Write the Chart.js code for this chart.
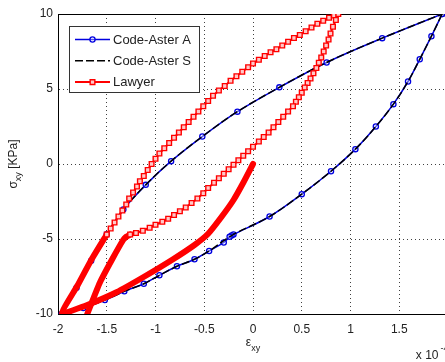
<!DOCTYPE html>
<html><head><meta charset="utf-8">
<script src="https://cdn.jsdelivr.net/npm/chart.js@4/dist/chart.umd.min.js"></script>
<style>html,body{margin:0;padding:0;background:#fff;overflow:hidden;width:445px;height:362px}canvas{display:block}</style>
</head><body><canvas id="c" width="460" height="362" style="width:460px;height:362px"></canvas>
<script>
// ---- data (strain in 1e-4, stress in KPa) ----
const xTickValues = [-2, -1.5, -1, -0.5, 0, 0.5, 1, 1.5, 2];
const yTickValues = [-10, -5, 0, 5, 10];
const seriesNames = ['Code-Aster A', 'Code-Aster S', 'Lawyer'];

const asterAUp = [[-1.96,-10],[-1.81,-8.25],[-1.66,-6.45],[-1.5,-4.69],[-1.33,-3.03],[-1.10,-1.39],[-0.84,0.19],[-0.52,1.83],[-0.16,3.49],[0.27,5.11],[0.755,6.77],[1.325,8.39],[1.94,10]];
const asterADown = [[1.94,10],[1.83,8.52],[1.71,6.98],[1.59,5.5],[1.44,3.99],[1.26,2.5],[1.05,0.99],[0.80,-0.48],[0.50,-2.01],[0.17,-3.5],[-0.20,-4.70],[-0.22,-4.77],[-0.24,-4.85],[-0.30,-5.23],[-0.45,-5.8],[-0.60,-6.35],[-0.78,-6.82],[-0.96,-7.42],[-1.12,-7.98],[-1.32,-8.49],[-1.52,-9.07],[-1.74,-9.6],[-1.96,-10]];
const asterSUp = [[-1.96,-10],[-1.81,-8.25],[-1.66,-6.45],[-1.5,-4.69],[-1.33,-3.03],[-1.10,-1.39],[-0.84,0.19],[-0.52,1.83],[-0.16,3.49],[0.27,5.11],[0.755,6.77],[1.325,8.39],[1.94,10]];
const asterSDown = [[1.94,10],[1.83,8.52],[1.71,6.98],[1.59,5.5],[1.44,3.99],[1.26,2.5],[1.05,0.99],[0.80,-0.48],[0.50,-2.01],[0.17,-3.5],[-0.22,-4.77],[-0.45,-5.8],[-0.60,-6.35],[-0.78,-6.82],[-0.96,-7.42],[-1.12,-7.98],[-1.32,-8.49],[-1.52,-9.07],[-1.74,-9.6],[-1.96,-10]];

const lawyerInitial = [[0,0],[-0.1,-1.25],[-0.2,-2.4],[-0.32,-3.5],[-0.46,-4.65],[-0.6,-5.4],[-0.82,-6.35],[-1.1,-7.45],[-1.4,-8.55],[-1.7,-9.4],[-1.96,-10]];
const lawyerReloadDense = [[-1.96,-10],[-1.8,-8.1],[-1.65,-6.3],[-1.5,-4.7]];
const lawyerReload = [[-1.50,-4.70],[-1.46,-4.30],[-1.42,-3.90],[-1.38,-3.50],[-1.34,-3.10],[-1.30,-2.70],[-1.27,-2.30],[-1.23,-1.90],[-1.19,-1.50],[-1.16,-1.15],[-1.12,-0.80],[-1.08,-0.40],[-1.04,0.00],[-1.00,0.35],[-0.96,0.70],[-0.91,1.05],[-0.86,1.40],[-0.81,1.75],[-0.76,2.10],[-0.71,2.45],[-0.66,2.80],[-0.61,3.15],[-0.56,3.50],[-0.51,3.85],[-0.46,4.20],[-0.41,4.55],[-0.35,4.90],[-0.29,5.20],[-0.23,5.55],[-0.17,5.85],[-0.11,6.15],[-0.05,6.45],[0.00,6.70],[0.06,6.95],[0.12,7.20],[0.18,7.45],[0.24,7.65],[0.30,7.90],[0.36,8.15],[0.42,8.40],[0.48,8.60],[0.54,8.85],[0.60,9.10],[0.66,9.35],[0.72,9.55],[0.78,9.75],[0.83,9.90],[0.875,10.0]];
const lawyerUnload = [[0.875,10.0],[0.85,9.60],[0.82,9.15],[0.795,8.70],[0.775,8.30],[0.75,7.90],[0.725,7.50],[0.70,7.10],[0.675,6.75],[0.65,6.40],[0.62,6.05],[0.59,5.70],[0.56,5.40],[0.53,5.10],[0.50,4.75],[0.47,4.45],[0.44,4.15],[0.41,3.85],[0.36,3.50],[0.31,3.15],[0.26,2.80],[0.21,2.45],[0.16,2.10],[0.11,1.80],[0.06,1.50],[0.00,1.15],[-0.05,0.85],[-0.10,0.55],[-0.15,0.25],[-0.20,-0.05],[-0.25,-0.35],[-0.30,-0.65],[-0.35,-0.95],[-0.40,-1.25],[-0.46,-1.60],[-0.51,-1.95],[-0.57,-2.30],[-0.63,-2.60],[-0.69,-2.90],[-0.75,-3.15],[-0.81,-3.40],[-0.87,-3.65],[-0.93,-3.85],[-1.00,-4.05],[-1.06,-4.25],[-1.13,-4.45],[-1.20,-4.60],[-1.26,-4.70]];
const lawyerUnloadDense = [[-1.26,-4.70],[-1.30,-4.85],[-1.33,-5.05],[-1.44,-6.3],[-1.57,-7.9],[-1.70,-10]];

const xTitle = {main: 'ε', sub: 'xy'};
const yTitle = {main: 'σ', sub: 'xy', rest: ' [KPa]'};
const xExponent = {base: 'x 10', exp: '-4'};

// ---- helpers ----
const pts = a => a.map(p => ({x: p[0], y: p[1]}));
const FONT = '"Liberation Sans", Arial, sans-serif';
const TXT = '#222';
const RED = '#ff0000', BLUE = '#0000e0', BLACK = '#000000';

const blueBase = {showLine: true, borderColor: BLUE, borderWidth: 1.5, tension: 0.35,
  pointStyle: 'circle', pointRadius: 2.6, pointBorderWidth: 1.3, pointBorderColor: BLUE,
  pointBackgroundColor: 'rgba(255,255,255,0.35)', order: 3};
const blackBase = {showLine: true, borderColor: BLACK, borderWidth: 1.5, tension: 0.35,
  borderDash: [8, 3], pointRadius: 0, order: 2};
const redBase = {showLine: true, borderColor: RED, borderWidth: 2, tension: 0,
  pointStyle: 'rect', pointRadius: 3.3, pointBorderWidth: 1.4, pointBorderColor: RED,
  pointBackgroundColor: '#ffc8c8', order: 0};
const redThick = {showLine: true, borderColor: RED, borderWidth: 6, tension: 0.2,
  pointRadius: 0, borderCapStyle: 'round', borderJoinStyle: 'round', order: 1};

const datasets = [
  Object.assign({label: seriesNames[0], inLegend: true, data: pts(asterAUp), backgroundColor: BLUE}, blueBase),
  Object.assign({label: seriesNames[0] + ' (down)', data: pts(asterADown)}, blueBase),
  Object.assign({label: seriesNames[1], inLegend: true, data: pts(asterSUp)}, blackBase),
  Object.assign({label: seriesNames[1] + ' (down)', data: pts(asterSDown)}, blackBase),
  Object.assign({label: seriesNames[2], inLegend: true, data: pts(lawyerReload.concat(lawyerUnload.slice(1)))}, redBase),
  Object.assign({label: seriesNames[2] + ' (dense 1)', data: pts(lawyerInitial.concat(lawyerReloadDense.slice(1)))}, redThick),
  Object.assign({label: seriesNames[2] + ' (dense 2)', data: pts(lawyerUnloadDense)}, redThick)
];

const framePlugin = {
  id: 'frame',
  beforeDatasetsDraw(chart) {
    const {ctx, chartArea: a} = chart;
    ctx.save();
    ctx.strokeStyle = '#000'; ctx.lineWidth = 1;
    ctx.strokeRect(Math.round(a.left) + 0.5, Math.round(a.top) + 0.5, Math.round(a.right - a.left), Math.round(a.bottom - a.top));
    ctx.restore();
  }
};

const legendPlugin = {
  id: 'boxLegend',
  afterDatasetsDraw(chart) {
    const {ctx, chartArea: a} = chart;
    const items = chart.data.datasets.filter(d => d.inLegend);
    const x0 = a.left + 11, y0 = a.top + 12, w = 130, h = 66;
    ctx.save();
    ctx.fillStyle = '#fff';
    ctx.fillRect(x0, y0, w, h);
    ctx.strokeStyle = '#333'; ctx.lineWidth = 1;
    ctx.strokeRect(x0 + 0.5, y0 + 0.5, w, h);
    items.forEach((d, i) => {
      const cy = y0 + 13.5 + i * 21.3;
      ctx.save();
      ctx.strokeStyle = d.borderColor; ctx.lineWidth = Math.min(d.borderWidth, 2);
      ctx.setLineDash(d.borderDash || []);
      ctx.beginPath(); ctx.moveTo(x0 + 6, cy); ctx.lineTo(x0 + 41, cy); ctx.stroke();
      ctx.setLineDash([]);
      const mx = x0 + 23.5;
      if (d.pointRadius > 0) {
        ctx.lineWidth = d.pointBorderWidth; ctx.strokeStyle = d.pointBorderColor; ctx.fillStyle = d.pointBackgroundColor;
        ctx.beginPath();
        if (d.pointStyle === 'rect') { const s = d.pointRadius * Math.SQRT1_2; ctx.rect(mx - s, cy - s, 2 * s, 2 * s); }
        else ctx.arc(mx, cy, d.pointRadius, 0, Math.PI * 2);
        ctx.fill(); ctx.stroke();
      }
      ctx.restore();
      ctx.fillStyle = TXT; ctx.font = '13px ' + FONT; ctx.textBaseline = 'middle'; ctx.textAlign = 'left';
      ctx.fillText(d.label, x0 + 44, cy + 0.5);
    });
    ctx.restore();
  }
};

const titlesPlugin = {
  id: 'titles',
  afterDraw(chart) {
    const {ctx, chartArea: a} = chart;
    const xs = chart.scales.x;
    ctx.save();
    ctx.fillStyle = TXT; ctx.textBaseline = 'alphabetic'; ctx.textAlign = 'left';
    // x title
    ctx.font = '12px ' + FONT; const wm = ctx.measureText(xTitle.main).width;
    ctx.font = '9px ' + FONT; const ws = ctx.measureText(xTitle.sub).width;
    let cx = xs.getPixelForValue(0) - (wm + ws) / 2;
    const by = a.bottom + 32;
    ctx.font = '12px ' + FONT; ctx.fillText(xTitle.main, cx, by);
    ctx.font = '9px ' + FONT; ctx.fillText(xTitle.sub, cx + wm, by + 5);
    // exponent
    const ex = xs.getPixelForValue(1.67);
    ctx.font = '12px ' + FONT; ctx.fillText(xExponent.base, ex, a.bottom + 45);
    const wb = ctx.measureText(xExponent.base).width;
    ctx.font = '9px ' + FONT; ctx.fillText(xExponent.exp, ex + wb + 2, a.bottom + 37);
    // y title (rotated)
    ctx.translate(17, (a.top + a.bottom) / 2);
    ctx.rotate(-Math.PI / 2);
    ctx.font = '12px ' + FONT; const m1 = ctx.measureText(yTitle.main).width, m3 = ctx.measureText(yTitle.rest).width;
    ctx.font = '9px ' + FONT; const m2 = ctx.measureText(yTitle.sub).width;
    let sx = -(m1 + m2 + m3) / 2;
    ctx.font = '12px ' + FONT; ctx.fillText(yTitle.main, sx, 0);
    ctx.font = '9px ' + FONT; ctx.fillText(yTitle.sub, sx + m1, 4);
    ctx.font = '12px ' + FONT; ctx.fillText(yTitle.rest, sx + m1 + m2, 0);
    ctx.restore();
  }
};

new Chart(document.getElementById('c'), {
  type: 'scatter',
  data: {datasets},
  options: {
    responsive: false, animation: false, devicePixelRatio: 1,
    layout: {padding: {top: 14, right: 12, left: 0, bottom: 0}},
    plugins: {legend: {display: false}, tooltip: {enabled: false}},
    scales: {
      x: {
        type: 'linear', min: xTickValues[0], max: xTickValues[xTickValues.length - 1],
        afterBuildTicks: s => { s.ticks = xTickValues.map(v => ({value: v})); },
        afterFit: s => { s.height = 48; },
        grid: {drawTicks: false, color: 'rgba(0,0,0,0.75)', lineWidth: 1},
        border: {display: true, color: '#000', width: 1, dash: [1, 3]},
        ticks: {padding: 8, color: TXT, font: {family: FONT, size: 12}, maxRotation: 0, autoSkip: false,
          callback: v => (v === 2 ? '' : String(Math.round(v * 10) / 10))}
      },
      y: {
        type: 'linear', min: yTickValues[0], max: yTickValues[yTickValues.length - 1],
        afterBuildTicks: s => { s.ticks = yTickValues.map(v => ({value: v})); },
        afterFit: s => { s.width = 58; },
        grid: {drawTicks: false, color: 'rgba(0,0,0,0.75)', lineWidth: 1},
        border: {display: true, color: '#000', width: 1, dash: [1, 3]},
        ticks: {padding: 5, color: TXT, font: {family: FONT, size: 12}, autoSkip: false,
          callback: v => String(v)}
      }
    }
  },
  plugins: [framePlugin, legendPlugin, titlesPlugin]
});
</script>
</body></html>
